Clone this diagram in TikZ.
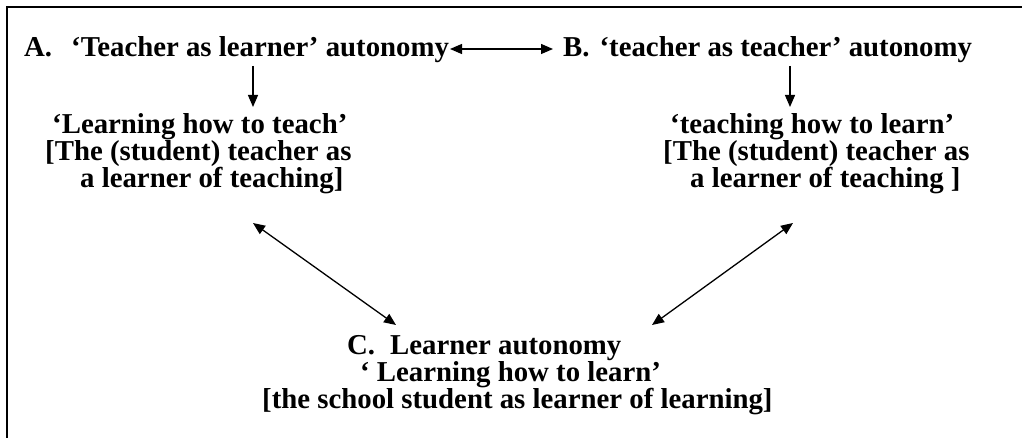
\documentclass[tikz,border=0pt]{standalone}
\usepackage{fontspec}
\setmainfont{Liberation Serif}
\usetikzlibrary{arrows.meta}
\begin{document}
\begin{tikzpicture}[x=1pt,y=-1pt,
  txt/.style={inner sep=0pt,font=\fontsize{28.8}{27}\selectfont\bfseries,align=left},
  arr/.style={line width=1.3pt,-{Triangle[length=12pt,width=10pt]}},
  darr/.style={line width=1.3pt,{Triangle[length=12pt,width=10pt]}-{Triangle[length=12pt,width=10pt]}},
  frame/.style={line width=2.5pt}]
\useasboundingbox (0,0) rectangle (1022,441);
\coordinate (ftop) at (1022,7);
\coordinate (fcorner) at (7,7);
\coordinate (fbot) at (7,438);
\draw[frame] (ftop) -- (fcorner) -- (fbot);
% texts (anchor = baseline of last line)
\node[txt,anchor=base west] (A) at (24,57) {A.\hspace{19pt}‘Teacher as learner’ autonomy};
\node[txt,anchor=base west] (B) at (563,57) {B.\hspace{10pt}‘teacher as teacher’ autonomy};
\node[txt,anchor=base west] (L) at (45,187) {\hspace*{7pt}‘Learning how to teach’\\{[}The (student) teacher as\\\hspace*{35pt}a learner of teaching]};
\node[txt,anchor=base west] (R) at (663,187) {\hspace*{7pt}‘teaching how to learn’\\{[}The (student) teacher as\\\hspace*{27pt}a learner of teaching ]};
\node[txt,anchor=base west] (C) at (262,408) {\hspace*{85pt}C.\hspace{15pt}Learner autonomy\\\hspace*{98pt}‘ Learning how to learn’\\{[}the school student as learner of learning]};
% connector ends
\coordinate (ab1) at (450,49);
\coordinate (ab2) at (553,49);
\coordinate (ad1) at (253,66);
\coordinate (ad2) at (253,107);
\coordinate (bd1) at (790,66);
\coordinate (bd2) at (790,107);
\coordinate (lc1) at (253,223);
\coordinate (lc2) at (396,325);
\coordinate (rc1) at (793,223);
\coordinate (rc2) at (652,325);
\draw[darr] (ab1) -- (ab2);
\draw[arr] (ad1) -- (ad2);
\draw[arr] (bd1) -- (bd2);
\draw[darr] (lc1) -- (lc2);
\draw[darr] (rc1) -- (rc2);
\end{tikzpicture}
\end{document}
